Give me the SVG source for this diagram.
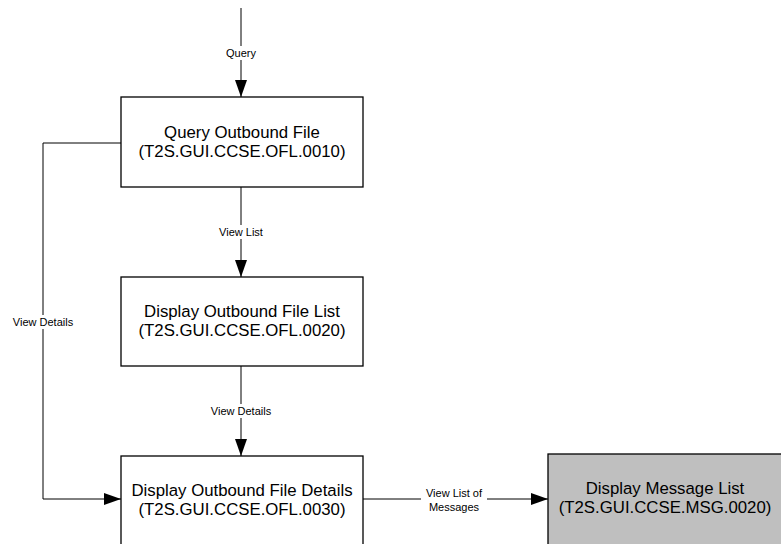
<svg xmlns="http://www.w3.org/2000/svg" width="781" height="544" viewBox="0 0 781 544">
<defs>
<style>
.box{fill:#fff;stroke:#000;stroke-width:1.3}
.gray{fill:#bfbfbf}
.t{font-family:"Liberation Sans",Arial,sans-serif;font-size:16.8px;fill:#000;text-anchor:middle}
.l{font-family:"Liberation Sans",Arial,sans-serif;font-size:11px;fill:#000;text-anchor:middle}
.c{fill:none;stroke:#000;stroke-width:1}
.bg{fill:#fff}
</style>
<marker id="ah" markerUnits="userSpaceOnUse" markerWidth="18" markerHeight="12" refX="17" refY="6" orient="auto">
<path d="M0,0 L17,6 L0,12 Z" fill="#000"/>
</marker>
</defs>
<g id="connectors">
<line class="c" x1="241" y1="8" x2="241" y2="97" marker-end="url(#ah)"/>
<line class="c" x1="241" y1="187" x2="241" y2="277" marker-end="url(#ah)"/>
<line class="c" x1="241" y1="366" x2="241" y2="456" marker-end="url(#ah)"/>
<polyline class="c" points="121,143 43,143 43,499 121,499" marker-end="url(#ah)"/>
<line class="c" x1="363" y1="499" x2="548" y2="499" marker-end="url(#ah)"/>
<rect class="bg" x="221" y="46" width="40" height="14"/>
<text class="l" x="241" y="57">Query</text>
<rect class="bg" x="214" y="225" width="54" height="14"/>
<text class="l" x="241" y="236">View List</text>
<rect class="bg" x="8" y="315" width="70" height="14"/>
<text class="l" x="43" y="326">View Details</text>
<rect class="bg" x="206" y="404" width="70" height="14"/>
<text class="l" x="241" y="415">View Details</text>
<rect class="bg" x="421" y="486" width="66" height="27"/>
<text class="l" x="454" y="497">View List of</text>
<text class="l" x="454" y="511">Messages</text>
</g>
<g id="node1">
<rect class="box" x="121" y="97" width="242" height="90"/>
<text class="t" x="242" y="138">Query Outbound File</text>
<text class="t" x="242" y="157">(T2S.GUI.CCSE.OFL.0010)</text>
</g>
<g id="node2">
<rect class="box" x="121" y="277" width="242" height="89"/>
<text class="t" x="242" y="317">Display Outbound File List</text>
<text class="t" x="242" y="336">(T2S.GUI.CCSE.OFL.0020)</text>
</g>
<g id="node3">
<rect class="box" x="121" y="456" width="242" height="100"/>
<text class="t" x="242" y="496">Display Outbound File Details</text>
<text class="t" x="242" y="515">(T2S.GUI.CCSE.OFL.0030)</text>
</g>
<g id="node4">
<rect class="box gray" x="548" y="454" width="240" height="100"/>
<text class="t" x="665" y="494">Display Message List</text>
<text class="t" x="665" y="513">(T2S.GUI.CCSE.MSG.0020)</text>
</g>
</svg>
